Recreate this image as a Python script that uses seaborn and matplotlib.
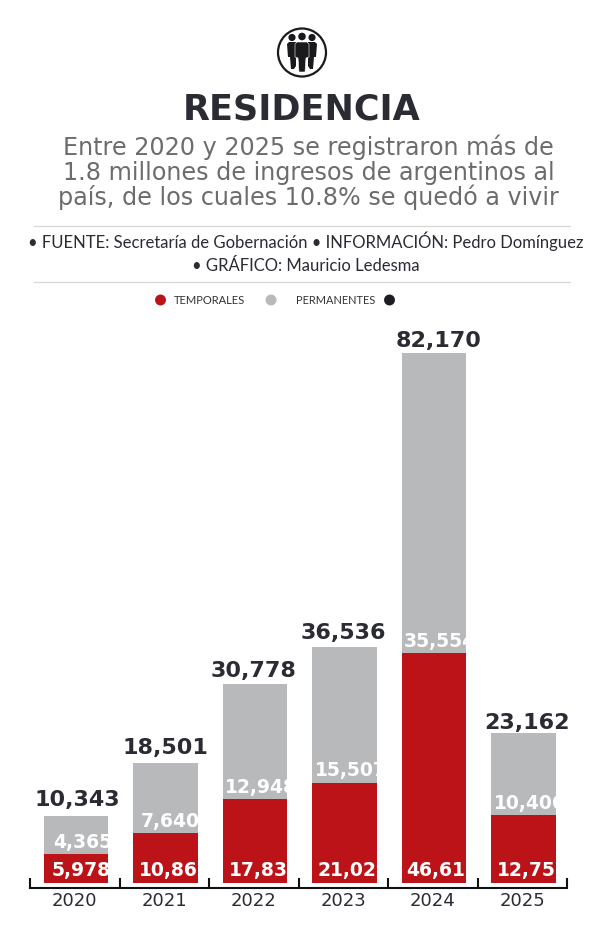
import matplotlib
matplotlib.use("Agg")
import matplotlib.pyplot as plt
from matplotlib.patches import Circle, Polygon
import pandas as pd
import seaborn as sns

YEARS = ["2020", "2021", "2022", "2023", "2024", "2025"]
TOTALS = [10343, 18501, 30778, 36536, 82170, 23162]
# the red segment is as tall as the value printed above it, not the one inside it
RED_HEIGHT = [4365, 7640, 12948, 15507, 35554, 10406]
BASE_LABEL = [5978, 10861, 17830, 21029, 46616, 12756]
TOTAL_LABEL = TOTALS

SUBTITLE = ["Entre 2020 y 2025 se registraron más de",
            "1.8 millones de ingresos de argentinos al",
            "país, de los cuales 10.8% se quedó a vivir"]

RED = "#BC1318"
GREY = "#B8B9BB"
DARK = "#2A2B33"
W, H = 601, 935

# hand placed label offsets, in px
BASE_PAD = [7.5, 6, 6.5, 5, 4, 5.5]
MID_PAD = [9.5, 8, 2.5, 3, 2, 2.5]
TOTAL_GAP = [10, 9.5, 7, 8, 6, 4.5]
TOTAL_SHIFT = [1.5, 0, -1.5, -1.5, 4.5, 3.5]

sns.set_theme(style="white")
plt.rcParams["font.family"] = "DejaVu Sans"

df = pd.DataFrame({"year": YEARS, "total": TOTALS, "red": RED_HEIGHT})

fig = plt.figure(figsize=(W / 100, H / 100), dpi=100)

# ── bars ──
ax = fig.add_axes([30 / W, 1 - 887.5 / H, 537 / W, (887.5 - 320) / H])
sns.barplot(data=df, x="year", y="total", color=GREY, saturation=1, width=0.72, linewidth=0, ax=ax)
sns.barplot(data=df, x="year", y="red", color=RED, saturation=1, width=0.72, linewidth=0, ax=ax)
px = 82170 / 529.5  # data units per pixel
ax.set_xlim(-0.5, 5.5)
ax.set_ylim(-5 * px, (882.5 - 320) * px)
ax.set_xlabel("")
ax.set_ylabel("")
ax.set_yticks([])
ax.patch.set_alpha(0)
sns.despine(ax=ax, left=True)
ax.spines["bottom"].set_linewidth(1.5)
ax.spines["bottom"].set_color("#111111")

# bars sit a touch right of the tick cells
for cont in ax.containers:
    for bar in cont:
        bar.set_x(bar.get_x() + 0.013)

ax.set_xticks(range(6))
ax.set_xticklabels(YEARS, fontsize=13, color=DARK)
ax.tick_params(axis="x", which="major", length=0, pad=3, bottom=False)
ax.set_xticks([i - 0.5 for i in range(7)], minor=True)
ax.tick_params(axis="x", which="minor", direction="in", length=7.5, width=1.5,
               color="#111111", bottom=True)

red_bars = ax.containers[1]
for i, bar in enumerate(red_bars):
    x0 = bar.get_x()
    ax.annotate(f"{TOTAL_LABEL[i]:,}", (bar.get_x() + bar.get_width() / 2, TOTALS[i]),
                xytext=(TOTAL_SHIFT[i] * 0.72, TOTAL_GAP[i] * 0.72),
                textcoords="offset points", ha="center", va="baseline",
                fontsize=16, fontweight="bold", color=DARK)
    # white labels get cut off at the bar's right edge
    t = ax.annotate(f"{BASE_LABEL[i]:,}", (x0, 0), xytext=(BASE_PAD[i] * 0.72, 4.5),
                    textcoords="offset points", ha="left", va="baseline",
                    fontsize=13.5, fontweight="bold", color="white")
    t.set_clip_path(bar)
    m = ax.annotate(f"{RED_HEIGHT[i]:,}", (x0, RED_HEIGHT[i]), xytext=(MID_PAD[i] * 0.72, 4.5),
                    textcoords="offset points", ha="left", va="baseline",
                    fontsize=13.5, fontweight="bold", color="white")
    m.set_clip_path(ax.containers[0][i])

# ── header, drawn in pixel coordinates ──
top = fig.add_axes([0, 0, 1, 1])
top.set_xlim(0, W)
top.set_ylim(H, 0)
top.axis("off")
top.patch.set_alpha(0)

INK = "#1A1A1C"
top.add_patch(Circle((302, 52.5), 24, fill=False, ec=INK, lw=1.6))
for cx, cy, r in [(292, 37.5, 3.6), (302, 36.5, 3.8), (312, 37.5, 3.6)]:
    top.add_patch(Circle((cx, cy), r, fc=INK, ec="none"))
for body in [[(287, 44), (289, 42), (296, 42), (296, 66), (294, 69), (291, 69), (290, 57), (288, 57)],
             [(308, 42), (315, 42), (317, 44), (316, 57), (314, 57), (313, 69), (310, 69), (308, 66)]]:
    top.add_patch(Polygon(body, closed=True, fc=INK, ec="none"))
top.add_patch(Polygon([(297, 42), (307, 42), (309, 44), (309, 57), (306, 58), (305, 72),
                       (299, 72), (298, 58), (295, 57), (295, 44)],
                      closed=True, fc=INK, ec="white", lw=0.4))

top.text(302, 119, "RESIDENCIA", ha="center", va="baseline", fontsize=25.2,
         fontweight="bold", color=DARK)
for y, line in zip([155, 180, 205], SUBTITLE):
    top.text(308.5, y, line, ha="center", va="baseline", fontsize=17.2, color="#6C6C6E")

top.plot([34, 570], [225.5, 225.5], color="#D9D9D9", lw=1)
top.plot([34, 570], [282, 282], color="#D9D9D9", lw=1)
top.text(305.5, 248, "• FUENTE: Secretaría de Gobernación • INFORMACIÓN: Pedro Domínguez",
         ha="center", va="baseline", fontsize=12, color=DARK, family="Lato")
top.text(305.5, 271, "• GRÁFICO: Mauricio Ledesma", ha="center", va="baseline",
         fontsize=12, color=DARK, family="Lato")

top.scatter([160.5, 271, 389.5], [300, 300, 300], s=62, c=[RED, GREY, "#1E1E22"], linewidths=0)
top.text(174, 304, "TEMPORALES", ha="left", va="baseline", fontsize=8,
         color="#333333", family="Lato")
top.text(296, 304, "PERMANENTES", ha="left", va="baseline", fontsize=7.9,
         color="#333333", family="Lato")

fig.savefig("out.png", dpi=100)
